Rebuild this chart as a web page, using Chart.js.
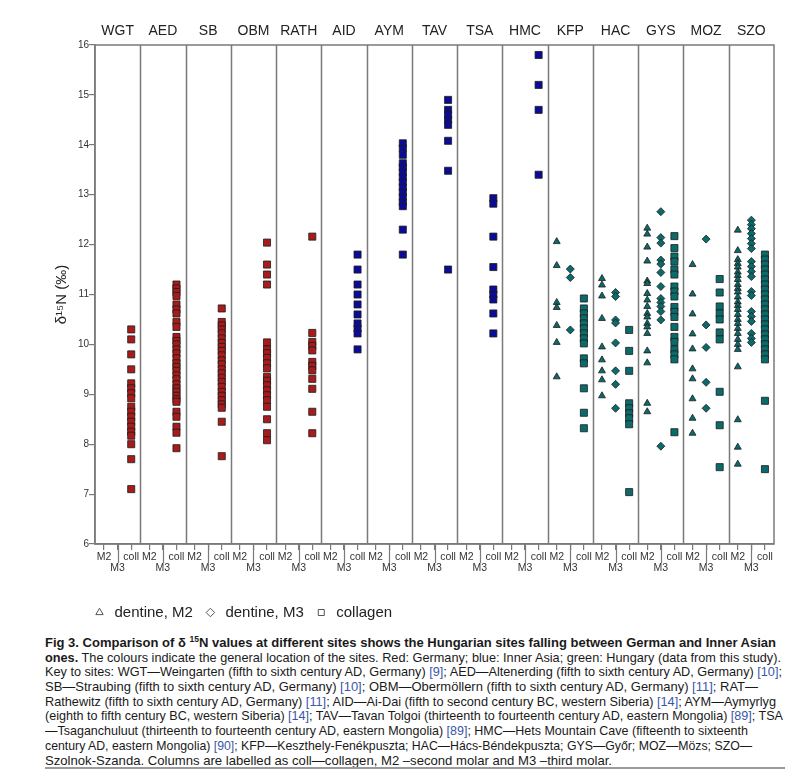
<!DOCTYPE html>
<html><head><meta charset="utf-8">
<script src="https://cdn.jsdelivr.net/npm/chart.js@4.4.0/dist/chart.umd.min.js"></script>
<style>
html,body{margin:0;padding:0;background:#fff;}
#wrap{position:relative;width:800px;height:770px;overflow:hidden;background:#fff;}
#c{position:absolute;left:0;top:0;width:800px;height:630px;}
#cap{position:absolute;left:45px;top:636px;font-family:"Liberation Sans Narrow","Arial Narrow","Liberation Sans",Arial,sans-serif;font-size:13px;line-height:14.7px;color:#1a1a1a;white-space:nowrap;}
#cap .ln{display:block;height:14.7px;}
#cap .ln span{display:inline-block;transform-origin:0 0;}
#cap a{color:#3a56a8;text-decoration:none;}
#cap sup{font-size:8.5px;line-height:0;vertical-align:5px;}
#rule{position:absolute;left:45px;top:767px;width:740px;height:2px;background:#9a9a9a;}
</style></head><body>
<div id="wrap">
<canvas id="c" width="800" height="630"></canvas>
<div id="cap">
<div class="ln"><span><b>Fig 3. Comparison of δ <sup>15</sup>N values at different sites shows the Hungarian sites falling between German and Inner Asian</b></span></div>
<div class="ln"><span><b>ones.</b> The colours indicate the general location of the sites. Red: Germany; blue: Inner Asia; green: Hungary (data from this study).</span></div>
<div class="ln"><span>Key to sites: WGT—Weingarten (fifth to sixth century AD, Germany) <a>[9]</a>; AED—Altenerding (fifth to sixth century AD, Germany) <a>[10]</a>;</span></div>
<div class="ln"><span>SB—Straubing (fifth to sixth century AD, Germany) <a>[10]</a>; OBM—Obermöllern (fifth to sixth century AD, Germany) <a>[11]</a>; RAT—</span></div>
<div class="ln"><span>Rathewitz (fifth to sixth century AD, Germany) <a>[11]</a>; AID—Ai-Dai (fifth to second century BC, western Siberia) <a>[14]</a>; AYM—Aymyrlyg</span></div>
<div class="ln"><span>(eighth to fifth century BC, western Siberia) <a>[14]</a>; TAV—Tavan Tolgoi (thirteenth to fourteenth century AD, eastern Mongolia) <a>[89]</a>; TSA</span></div>
<div class="ln"><span>—Tsaganchuluut (thirteenth to fourteenth century AD, eastern Mongolia) <a>[89]</a>; HMC—Hets Mountain Cave (fifteenth to sixteenth</span></div>
<div class="ln"><span>century AD, eastern Mongolia) <a>[90]</a>; KFP—Keszthely-Fenékpuszta; HAC—Hács-Béndekpuszta; GYS—Győr; MOZ—Mözs; SZO—</span></div>
<div class="ln"><span>Szolnok-Szanda. Columns are labelled as coll—collagen, M2 –second molar and M3 –third molar.</span></div>
</div>
<div id="rule"></div>
</div>
<script>
// ---------- data ----------
const sites = ['WGT','AED','SB','OBM','RATH','AID','AYM','TAV','TSA','HMC','KFP','HAC','GYS','MOZ','SZO'];
const siteRegion = ['de','de','de','de','de','ia','ia','ia','ia','ia','hu','hu','hu','hu','hu'];
const subLabels = ['M2','M3','coll'];
const legendLabels = ['dentine, M2','dentine, M3','collagen'];
const yTicks = [6,7,8,9,10,11,12,13,14,15,16];

// dentine, second molar (per site)
const dentineM2 = [
  [],[],[],[],[],[],[],[],[],[],
  [12.06,11.58,10.84,10.74,10.38,10.04,9.35],
  [11.32,11.19,10.97,10.52,9.95,9.69,9.47,9.29,8.97],
  [12.33,12.21,11.95,11.67,11.27,11.22,11.02,10.89,10.76,10.62,10.55,10.42,10.35,10.22,9.87,9.63,8.82,8.65],
  [11.6,11.01,10.61,10.21,9.91,9.51,9.31,8.91,8.52,8.22],
  [12.29,11.88,11.7,11.62,11.55,11.45,11.38,11.3,11.2,11.12,11.05,10.95,10.85,10.78,10.7,10.6,10.5,10.42,10.32,10.22,10.1,10.0,9.9,9.55,8.49,7.94,7.6]
];
// dentine, third molar (per site)
const dentineM3 = [
  [],[],[],[],[],[],[],[],[],[],
  [11.51,11.34,10.29],
  [11.04,10.96,10.49,10.43,10.03,9.47,9.2,8.72],
  [12.66,12.14,12.03,11.69,11.61,11.44,11.16,10.92,10.84,10.76,10.66,10.49,7.96],
  [12.11,10.39,9.94,9.24,8.72],
  [12.49,12.4,12.32,12.22,12.12,12.02,11.92,11.66,11.56,11.46,11.36,11.06,10.98,10.66,10.56,10.46,10.22,10.12,10.04]
];
// collagen (per site)
const collagen = [
  [10.3,10.1,9.8,9.5,9.22,9.12,9.02,8.92,8.75,8.65,8.55,8.45,8.35,8.25,8.17,8.0,7.7,7.1],
  [11.2,11.12,11.05,10.97,10.8,10.7,10.62,10.45,10.35,10.15,10.07,10.0,9.9,9.82,9.72,9.62,9.55,9.47,9.38,9.3,9.2,9.12,9.05,8.97,8.9,8.85,8.65,8.55,8.35,8.23,7.92],
  [10.72,10.45,10.38,10.3,10.22,10.12,10.03,9.95,9.87,9.78,9.68,9.6,9.5,9.42,9.33,9.25,9.15,9.05,8.97,8.88,8.8,8.73,8.45,7.76],
  [12.04,11.6,11.4,11.2,10.04,9.9,9.82,9.73,9.62,9.52,9.35,9.27,9.18,9.08,8.98,8.88,8.75,8.5,8.22,8.08],
  [12.16,10.23,10.05,9.97,9.88,9.65,9.57,9.48,9.31,9.11,8.65,8.22],
  [11.8,11.5,11.2,11.0,10.8,10.6,10.42,10.32,10.22,9.9],
  [14.03,13.93,13.8,13.63,13.55,13.45,13.35,13.25,13.15,13.05,12.95,12.85,12.77,12.3,11.8],
  [14.9,14.7,14.6,14.5,14.4,14.08,13.48,11.5],
  [12.93,12.82,12.16,11.55,11.1,11.0,10.9,10.62,10.22],
  [15.8,15.2,14.7,13.4],
  [10.92,10.72,10.62,10.52,10.42,10.32,10.22,10.12,10.02,9.72,9.62,9.12,8.63,8.32],
  [10.29,9.87,9.47,8.82,8.72,8.62,8.52,8.4,7.04],
  [12.17,11.93,11.76,11.66,11.5,11.4,11.16,11.06,10.96,10.75,10.65,10.55,10.35,10.15,10.05,9.9,9.8,9.7,8.24],
  [11.31,11.04,10.76,10.62,10.5,10.24,10.1,9.05,8.38,7.54],
  [11.8,11.7,11.6,11.5,11.4,11.3,11.2,11.1,11.0,10.9,10.8,10.7,10.6,10.5,10.4,10.3,10.2,10.1,10.0,9.9,9.8,9.7,8.87,7.5]
];

// ---------- styles ----------
const regionColor = {de:'#a81b1b', ia:'#0b0b98', hu:'#0b6a6a'};
const subOffset = [0.2, 0.5, 0.8];
const subStyle = ['triangle','rectRot','rect'];
const subRadius = [4.0, 4.0, 5.0];
const axisColor = '#7a7a7a';
const captionLineWidths = [731, 736, 737, 713, 731, 738, 703, 707, 567];

const seriesByType = [dentineM2, dentineM3, collagen];
const datasets = [];
sites.forEach((s, i) => {
  seriesByType.forEach((series, t) => {
    const vals = series[i];
    if (!vals.length) return;
    datasets.push({
      label: s + ' ' + subLabels[t],
      data: vals.map(v => ({x: i + subOffset[t], y: v})),
      pointStyle: subStyle[t],
      pointRadius: subRadius[t],
      pointHoverRadius: subRadius[t],
      backgroundColor: regionColor[siteRegion[i]],
      borderColor: '#1c1c1c',
      borderWidth: 0.8,
      showLine: false
    });
  });
});

const bottomTicks = [];
sites.forEach((s, i) => subOffset.forEach(o => bottomTicks.push(i + o)));
const topTicks = sites.map((s, i) => i + 0.5);

const framePlugin = {
  id: 'frame',
  afterLayout(chart) {
    if (chart.legend) chart.legend.left = 82;
  },
  beforeDatasetsDraw(chart) {
    const {ctx, chartArea: a, scales: {x}} = chart;
    ctx.save();
    ctx.strokeStyle = axisColor;
    ctx.lineWidth = 1.5;
    ctx.beginPath();
    for (let i = 1; i < sites.length; i++) {
      const px = Math.round(x.getPixelForValue(i)) + 0.5;
      ctx.moveTo(px, a.top); ctx.lineTo(px, a.bottom);
    }
    ctx.stroke();
    ctx.strokeRect(a.left, a.top, a.right - a.left, a.bottom - a.top);
    ctx.lineWidth = 1.2;
    ctx.beginPath();
    for (let i = 0; i < sites.length; i++) {
      const px = Math.round(x.getPixelForValue(i + subOffset[1])) + 0.5;
      ctx.moveTo(px, a.bottom); ctx.lineTo(px, a.bottom + 19);
    }
    ctx.stroke();
    ctx.restore();
  }
};

new Chart(document.getElementById('c'), {
  type: 'scatter',
  data: {datasets},
  plugins: [framePlugin],
  options: {
    responsive: false,
    animation: false,
    layout: {padding: {left: 0, right: 26, top: 0, bottom: 0}},
    plugins: {
      tooltip: {enabled: false},
      legend: {
        position: 'bottom',
        align: 'start',
        labels: {
          usePointStyle: true,
          boxWidth: 15,
          boxHeight: 6,
          padding: 10,
          color: '#222',
          font: {family: 'Liberation Sans, Arial, sans-serif', size: 15},
          generateLabels: () => legendLabels.map((t, k) => ({
            text: t, pointStyle: subStyle[k], fillStyle: '#ffffff',
            strokeStyle: '#555', lineWidth: 1, hidden: false, fontColor: '#222'
          }))
        }
      }
    },
    scales: {
      x: {
        type: 'linear', position: 'bottom', min: 0, max: sites.length,
        afterBuildTicks: s => { s.ticks = bottomTicks.map(v => ({value: v})); },
        afterFit: s => { s.height = 51; },
        grid: {drawOnChartArea: false, drawTicks: true, tickLength: 6, color: axisColor, lineWidth: 1.2},
        border: {display: true, color: axisColor, width: 1.5},
        ticks: {
          autoSkip: false, maxRotation: 0, minRotation: 0, padding: 1,
          color: '#333',
          font: {family: 'Liberation Sans, Arial, sans-serif', size: 10.5, lineHeight: 1.1},
          callback: (v, idx) => idx % 3 === 1 ? ['', subLabels[1]] : subLabels[idx % 3]
        }
      },
      xt: {
        type: 'linear', position: 'top', min: 0, max: sites.length,
        afterBuildTicks: s => { s.ticks = topTicks.map(v => ({value: v})); },
        afterFit: s => { s.height = 45; },
        grid: {display: false, drawTicks: false},
        border: {display: false},
        ticks: {
          autoSkip: false, maxRotation: 0, minRotation: 0, padding: 5.6,
          color: '#222',
          font: {family: 'Liberation Sans, Arial, sans-serif', size: 14, lineHeight: 1.2},
          callback: (v, idx) => sites[idx]
        }
      },
      y: {
        type: 'linear', position: 'left', min: yTicks[0], max: yTicks[yTicks.length - 1],
        afterBuildTicks: s => { s.ticks = yTicks.map(v => ({value: v})); },
        afterFit: s => { s.width = 95; },
        grid: {drawOnChartArea: false, drawTicks: true, tickLength: 6, color: axisColor, lineWidth: 1.2},
        border: {display: true, color: axisColor, width: 1.5},
        ticks: {
          padding: 0, color: '#333',
          font: {family: 'Liberation Sans, Arial, sans-serif', size: 10}
        },
        title: {
          display: true, text: 'δ¹⁵N (‰)', color: '#222',
          font: {family: 'Liberation Sans, Arial, sans-serif', size: 15, lineHeight: 1.2},
          padding: {top: 53, bottom: 0}
        }
      }
    }
  }
});

// fit each caption line to the reference line length
document.querySelectorAll('#cap .ln span').forEach((sp, k) => {
  const w = sp.getBoundingClientRect().width;
  sp.style.transform = 'scaleX(' + (captionLineWidths[k] / w) + ')';
});
</script>
</body></html>
